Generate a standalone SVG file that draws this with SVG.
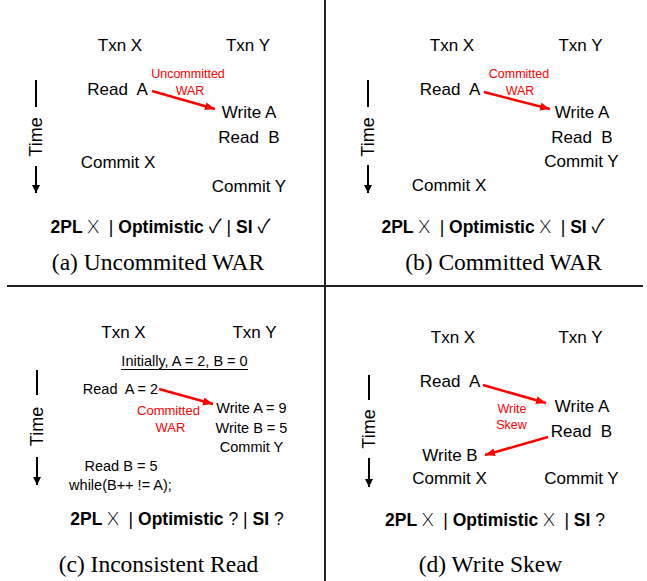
<svg xmlns="http://www.w3.org/2000/svg" width="647" height="581" viewBox="0 0 647 581">
<defs>
<style>
text{font-family:"Liberation Sans",Arial,sans-serif;fill:#000;text-anchor:middle}
.op{font-size:17px}
.sm{font-size:14.5px}
.red{fill:#ff0000;font-size:12.5px}
.red13{fill:#ff0000;font-size:13px}
.time{font-size:18px}
.ver{font-size:17.5px}
.b{font-weight:bold}
.sym{font-family:"Noto Sans CJK JP","DejaVu Sans",sans-serif;font-size:19px}
.x{font-family:"Lato","Liberation Sans",sans-serif;font-weight:300;font-size:18.5px}
.cap{font-family:"Liberation Serif","Times New Roman",serif;font-size:23.5px}
.rarrow{stroke:#ff0000;stroke-width:2.5;fill:none}
.tbar{stroke:#000;stroke-width:2;fill:none}
.div{stroke:#222;stroke-width:2;fill:none}
</style>
<marker id="rh" markerUnits="userSpaceOnUse" markerWidth="12" markerHeight="10" refX="10" refY="4" orient="auto">
<path d="M0,0 L10,4 L0,8 Z" fill="#ff0000"/>
</marker>
<marker id="th" markerUnits="userSpaceOnUse" markerWidth="10" markerHeight="10" refX="8" refY="4" orient="auto">
<path d="M0,0 L8,4 L0,8 Z" fill="#000"/>
</marker>
</defs>
<rect width="647" height="581" fill="#fff"/>

<g id="dividers">
<line class="div" x1="325" y1="0" x2="325" y2="581"/>
<line class="div" x1="7" y1="286" x2="643" y2="286"/>
</g>

<g id="connectors">
<line class="rarrow" x1="152" y1="91" x2="215" y2="109" marker-end="url(#rh)"/>
<line class="rarrow" x1="484" y1="92" x2="550" y2="109" marker-end="url(#rh)"/>
<line class="rarrow" x1="159" y1="389" x2="213" y2="404" marker-end="url(#rh)"/>
<line class="rarrow" x1="483" y1="385" x2="546" y2="403" marker-end="url(#rh)"/>
<line class="rarrow" x1="548" y1="437" x2="485" y2="455" marker-end="url(#rh)"/>
</g>

<!-- Panel (a) -->
<g id="panel-a">
<g id="a-time">
<line class="tbar" x1="36" y1="80" x2="36" y2="107"/>
<text class="time" transform="translate(42,137) rotate(-90)">Time</text>
<line class="tbar" x1="36" y1="166" x2="36" y2="193" marker-end="url(#th)"/>
</g>
<g id="a-txnx"><text class="op" x="120" y="51">Txn X</text></g>
<g id="a-txny"><text class="op" x="248" y="51">Txn Y</text></g>
<g id="a-readA"><text class="op" x="117.5" y="95" xml:space="preserve">Read  A</text></g>
<g id="a-label"><text class="red" x="188" y="78">Uncommitted</text><text class="red" x="190" y="95">WAR</text></g>
<g id="a-writeA"><text class="op" x="249" y="118">Write A</text></g>
<g id="a-readB"><text class="op" x="249" y="143" xml:space="preserve">Read  B</text></g>
<g id="a-commitX"><text class="op" x="118" y="168">Commit X</text></g>
<g id="a-commitY"><text class="op" x="249" y="192">Commit Y</text></g>
<g id="a-verdict"><text class="ver" x="160.5" y="233" xml:space="preserve"><tspan class="b">2PL</tspan> <tspan class="x">X</tspan>  | <tspan class="b">Optimistic</tspan> <tspan class="sym">✓</tspan> | <tspan class="b">SI</tspan> <tspan class="sym">✓</tspan></text></g>
<g id="a-caption"><text class="cap" x="158" y="270">(a) Uncommited WAR</text></g>
</g>

<!-- Panel (b) -->
<g id="panel-b">
<g id="b-time">
<line class="tbar" x1="368" y1="80" x2="368" y2="107"/>
<text class="time" transform="translate(374,137) rotate(-90)">Time</text>
<line class="tbar" x1="368" y1="165" x2="368" y2="193" marker-end="url(#th)"/>
</g>
<g id="b-txnx"><text class="op" x="452" y="51">Txn X</text></g>
<g id="b-txny"><text class="op" x="580.5" y="51">Txn Y</text></g>
<g id="b-readA"><text class="op" x="450" y="95" xml:space="preserve">Read  A</text></g>
<g id="b-label"><text class="red" x="519" y="78">Committed</text><text class="red" x="520" y="95">WAR</text></g>
<g id="b-writeA"><text class="op" x="582" y="118">Write A</text></g>
<g id="b-readB"><text class="op" x="582" y="143" xml:space="preserve">Read  B</text></g>
<g id="b-commitY"><text class="op" x="581.5" y="167">Commit Y</text></g>
<g id="b-commitX"><text class="op" x="449" y="191">Commit X</text></g>
<g id="b-verdict"><text class="ver" x="493" y="233" xml:space="preserve"><tspan class="b">2PL</tspan> <tspan class="x">X</tspan>  | <tspan class="b">Optimistic</tspan> <tspan class="x">X</tspan>  | <tspan class="b">SI</tspan> <tspan class="sym">✓</tspan></text></g>
<g id="b-caption"><text class="cap" x="503.5" y="270">(b) Committed WAR</text></g>
</g>

<!-- Panel (c) -->
<g id="panel-c">
<g id="c-time">
<line class="tbar" x1="37" y1="370" x2="37" y2="395"/>
<text class="time" transform="translate(43,426.5) rotate(-90)">Time</text>
<line class="tbar" x1="37" y1="457" x2="37" y2="485" marker-end="url(#th)"/>
</g>
<g id="c-txnx"><text class="op" x="123.5" y="338">Txn X</text></g>
<g id="c-txny"><text class="op" x="254.5" y="338">Txn Y</text></g>
<g id="c-init"><text class="sm" x="184.5" y="366">Initially, A = 2, B = 0</text><line x1="121" y1="369.5" x2="248" y2="369.5" stroke="#000" stroke-width="1"/></g>
<g id="c-readA"><text class="sm" x="120.5" y="394" xml:space="preserve">Read  A = 2</text></g>
<g id="c-label"><text class="red13" x="168.5" y="415">Committed</text><text class="red13" x="170.5" y="432">WAR</text></g>
<g id="c-writeA"><text class="sm" x="251.5" y="413">Write A = 9</text></g>
<g id="c-writeB"><text class="sm" x="251.5" y="433">Write B = 5</text></g>
<g id="c-commitY"><text class="sm" x="251.5" y="452">Commit Y</text></g>
<g id="c-readB"><text class="sm" x="121" y="471">Read B = 5</text></g>
<g id="c-while"><text class="sm" x="120.5" y="490">while(B++ != A);</text></g>
<g id="c-verdict"><text class="ver" x="177" y="525" xml:space="preserve"><tspan class="b">2PL</tspan> <tspan class="x">X</tspan>  | <tspan class="b">Optimistic</tspan> ? | <tspan class="b">SI</tspan> ?</text></g>
<g id="c-caption"><text class="cap" x="158.5" y="572">(c) Inconsistent Read</text></g>
</g>

<!-- Panel (d) -->
<g id="panel-d">
<g id="d-time">
<line class="tbar" x1="369" y1="375" x2="369" y2="400"/>
<text class="time" transform="translate(375,429) rotate(-90)">Time</text>
<line class="tbar" x1="369" y1="458" x2="369" y2="487" marker-end="url(#th)"/>
</g>
<g id="d-txnx"><text class="op" x="453" y="343">Txn X</text></g>
<g id="d-txny"><text class="op" x="580.5" y="343">Txn Y</text></g>
<g id="d-readA"><text class="op" x="450" y="387" xml:space="preserve">Read  A</text></g>
<g id="d-writeA"><text class="op" x="582" y="412">Write A</text></g>
<g id="d-label"><text class="red" x="512" y="413">Write</text><text class="red" x="511.5" y="429">Skew</text></g>
<g id="d-readB"><text class="op" x="581.5" y="437" xml:space="preserve">Read  B</text></g>
<g id="d-writeB"><text class="op" x="450" y="461">Write B</text></g>
<g id="d-commitX"><text class="op" x="449.5" y="484">Commit X</text></g>
<g id="d-commitY"><text class="op" x="581.5" y="484">Commit Y</text></g>
<g id="d-verdict"><text class="ver" x="495" y="526" xml:space="preserve"><tspan class="b">2PL</tspan> <tspan class="x">X</tspan>  | <tspan class="b">Optimistic</tspan> <tspan class="x">X</tspan>  | <tspan class="b">SI</tspan> ?</text></g>
<g id="d-caption"><text class="cap" x="490.5" y="572">(d) Write Skew</text></g>
</g>
</svg>
